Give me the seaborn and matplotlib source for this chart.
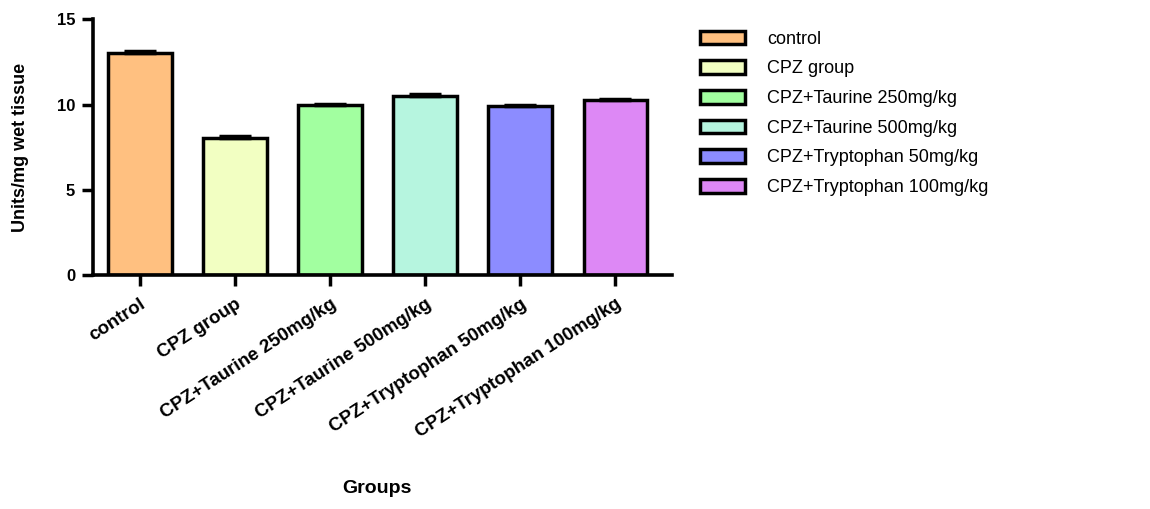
import matplotlib
matplotlib.use("Agg")
import matplotlib.pyplot as plt
import seaborn as sns
import numpy as np
import pandas as pd

groups = [
    "control",
    "CPZ group",
    "CPZ+Taurine 250mg/kg",
    "CPZ+Taurine 500mg/kg",
    "CPZ+Tryptophan 50mg/kg",
    "CPZ+Tryptophan 100mg/kg",
]
values = [13.0, 8.05, 9.95, 10.5, 9.9, 10.25]
errors = [0.12, 0.10, 0.10, 0.10, 0.08, 0.08]
colors = ["#FFC080", "#F2FFC2", "#A2FFA0", "#B6F5DF", "#8C8CFF", "#DD88F5"]
y_ticks = [0, 5, 10, 15]

sns.set_theme(style="ticks")
plt.rcParams["font.family"] = ["Liberation Sans", "DejaVu Sans"]
plt.rcParams.update({
    "text.color": "black",
    "axes.labelcolor": "black",
    "xtick.color": "black",
    "ytick.color": "black",
})

fig = plt.figure(figsize=(11.5, 5.09), dpi=100)
ax = fig.add_axes([0.081, 0.46, 0.503, 0.502])

df = pd.DataFrame({"group": groups, "value": values})
sns.barplot(
    data=df, x="group", y="value", hue="group", palette=colors,
    order=groups, hue_order=groups, width=0.67, dodge=False,
    saturation=1, edgecolor="black", linewidth=2.5, legend=True, ax=ax,
)

# upper-only error bars (mean + SEM)
xpos = np.arange(len(groups))
ax.errorbar(
    xpos, values, yerr=[np.zeros(len(errors)), errors], fmt="none",
    ecolor="black", elinewidth=2, capsize=11.5, capthick=2.5, zorder=5,
)

ax.set_xlim(-0.49, 5.59)
ax.set_ylim(0, 15)
ax.set_yticks(y_ticks)
ax.set_yticklabels([str(t) for t in y_ticks], fontsize=12, fontweight="bold")
ax.set_xticks(xpos)
ax.set_xticklabels(groups, rotation=33, ha="right", rotation_mode="anchor",
                   fontsize=13.5, fontweight="bold")

for side in ("top", "right"):
    ax.spines[side].set_visible(False)
for side in ("left", "bottom"):
    ax.spines[side].set_linewidth(2.6)
    ax.spines[side].set_color("black")
ax.tick_params(axis="both", direction="out", length=8, width=2.5, colors="black")
ax.tick_params(axis="x", pad=7)
ax.tick_params(axis="y", pad=5)

ax.set_ylabel("Units/mg wet tissue", fontsize=13, fontweight="bold", labelpad=20)
ax.set_xlabel("")
fig.text(0.328, 0.024, "Groups", ha="center", va="bottom",
         fontsize=14, fontweight="bold")

handles, labels = ax.get_legend_handles_labels()
ax.get_legend().remove()
for h in handles:
    h.set_edgecolor("black")
    h.set_linewidth(2.5)
fig.legend(
    handles, labels, loc="upper left", bbox_to_anchor=(0.609, 0.940),
    frameon=False, fontsize=13, handlelength=2.5, handleheight=0.78,
    handletextpad=1.2, labelspacing=0.70, borderpad=0, borderaxespad=0,
)

fig.savefig("out.png", dpi=100)
